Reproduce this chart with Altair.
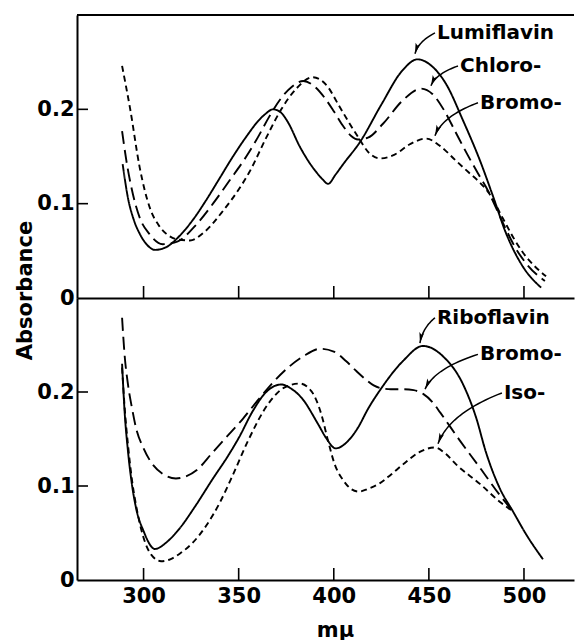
import math
import altair as alt
import pandas as pd

# ---------------- data (wavelength in mμ, absorbance) ----------------
# upper panel
lumi_x = [289, 291.8, 295, 298, 302, 306, 312, 319, 326, 333, 340, 347, 354, 360, 364, 368, 372, 376, 382, 387,
          391, 394, 397, 401, 405, 414, 425, 436, 444, 452, 459, 468, 477, 483.7, 490.5, 499.5, 509]
lumi_y = [0.142, 0.106, 0.082, 0.068, 0.056, 0.051, 0.054, 0.066, 0.083, 0.104, 0.127, 0.150, 0.171, 0.187, 0.195,
          0.200, 0.197, 0.186, 0.161, 0.144, 0.133, 0.126, 0.121, 0.131, 0.142, 0.166, 0.205, 0.241, 0.253, 0.245,
          0.227, 0.188, 0.145, 0.108, 0.069, 0.033, 0.011]

chloro_x = [288.7, 291, 294.4, 298, 303, 310, 318, 326, 336.5, 345, 354, 360, 366, 372, 378, 384, 390, 396, 400,
            405, 409, 412.7, 418, 426, 436, 446, 452, 458, 464, 470, 477, 481, 485, 490.5, 495, 501, 511]
chloro_y = [0.177, 0.145, 0.110, 0.085, 0.068, 0.057, 0.060, 0.074, 0.100, 0.124, 0.150, 0.170, 0.192, 0.211,
            0.224, 0.230, 0.224, 0.210, 0.198, 0.182, 0.172, 0.168, 0.170, 0.185, 0.209, 0.222, 0.216, 0.199,
            0.176, 0.153, 0.128, 0.114, 0.097, 0.073, 0.055, 0.037, 0.018]

bromo_top_x = [288.7, 292.9, 298, 303.4, 308, 312, 318, 324.4, 332, 342, 350, 355.5, 364.5, 372.4, 380.3, 389,
               396, 403, 408, 413, 418, 424.3, 432, 440, 448.5, 456, 464, 471, 477, 482, 489, 495, 499.5, 505,
               511.6]
bromo_top_y = [0.246, 0.201, 0.138, 0.095, 0.077, 0.068, 0.062, 0.061, 0.070, 0.093, 0.115, 0.133, 0.170, 0.200,
               0.222, 0.234, 0.226, 0.203, 0.186, 0.170, 0.155, 0.148, 0.152, 0.163, 0.169, 0.161, 0.146, 0.133,
               0.122, 0.110, 0.084, 0.062, 0.048, 0.035, 0.023]

# lower panel
ribo_x = [288.7, 290, 291.8, 294, 296, 300, 306, 312, 319, 327, 336.5, 344.4, 350, 357.5, 364, 372.4, 378, 383,
          391.7, 396, 401, 406, 412.7, 418, 425, 436.4, 446.9, 457.4, 468, 474.8, 480, 487.4, 494.2, 501, 510]
ribo_y = [0.230, 0.180, 0.137, 0.100, 0.077, 0.052, 0.033, 0.040, 0.055, 0.078, 0.108, 0.132, 0.151, 0.180,
          0.199, 0.208, 0.203, 0.194, 0.166, 0.151, 0.140, 0.145, 0.162, 0.182, 0.204, 0.233, 0.249, 0.238, 0.208,
          0.173, 0.136, 0.097, 0.073, 0.049, 0.022]

bromo_bot_x = [288.7, 290, 291.8, 294, 296, 300, 303.4, 310, 317, 322, 328, 336, 344, 352, 360, 368, 376, 384,
               393, 400, 406.4, 412, 417, 421, 425, 430, 436, 442, 447, 452, 456, 466.4, 477, 487.4, 494.2]
bromo_bot_y = [0.279, 0.240, 0.208, 0.182, 0.162, 0.140, 0.127, 0.113, 0.108, 0.110, 0.117, 0.135, 0.153, 0.171,
               0.191, 0.210, 0.226, 0.238, 0.246, 0.243, 0.233, 0.222, 0.213, 0.207, 0.204, 0.203, 0.203, 0.202,
               0.198, 0.189, 0.178, 0.148, 0.119, 0.090, 0.073]

iso_x = [288.7, 290, 292, 294, 296, 300, 304, 309.2, 314, 319, 326, 333, 340, 347, 354.9, 365.4, 374.2, 382,
         388.2, 393.5, 397, 400.5, 405, 409, 413, 418, 424.3, 430, 436.4, 445, 453, 459, 464.3, 477, 487.4, 494.2]
iso_y = [0.226, 0.185, 0.140, 0.105, 0.080, 0.045, 0.027, 0.020, 0.022, 0.028, 0.040, 0.058, 0.082, 0.112,
         0.148, 0.187, 0.205, 0.209, 0.201, 0.176, 0.148, 0.123, 0.106, 0.097, 0.094, 0.097, 0.103, 0.112, 0.123,
         0.136, 0.141, 0.134, 0.123, 0.102, 0.083, 0.073]

# annotations: label text, label anchor (left, middle) and arrow tip
top_labels = ["Lumiflavin", "Chloro-", "Bromo-"]
top_label_x = [453.2, 465.3, 475.8]
top_label_y = [0.281, 0.246, 0.207]
top_tip_x = [442.7, 451.1, 453.2]
top_tip_y = [0.259, 0.225, 0.172]

bot_labels = ["Riboflavin", "Bromo-", "Iso-"]
bot_label_x = [453.2, 475.8, 488.4]
bot_label_y = [0.279, 0.240, 0.199]
bot_tip_x = [445.3, 448.0, 454.8]
bot_tip_y = [0.252, 0.203, 0.145]

x_ticks = [300, 350, 400, 450, 500]
y_ticks = [0, 0.1, 0.2]
styles = ["solid", "long", "short"]

# ---------------- layout ----------------
X_DOMAIN = [265, 526.3]
Y_DOMAIN = [0, 0.3]
W, H1, H2 = 497, 283, 282
FONT = "DejaVu Sans"
PXX = W / (X_DOMAIN[1] - X_DOMAIN[0])
ARROW = "M0,0L0.55,2.4L0,1.9L-0.55,2.4Z"

xs = alt.Scale(domain=X_DOMAIN, nice=False, zero=False)
ys = alt.Scale(domain=Y_DOMAIN, nice=False)


def arrows(labels, lx, ly, tx, ty, H):
    pxy = H / (Y_DOMAIN[1] - Y_DOMAIN[0])
    rows, heads = [], []
    for lab, sx, sy, ex, ey in zip(labels, lx, ly, tx, ty):
        Sx, Sy = sx * PXX, -sy * pxy
        Ex, Ey = ex * PXX, -ey * pxy
        Cx = Ex + 0.18 * (Sx - Ex)
        Cy = Sy + 0.4 * (Ey - Sy)
        for i in range(25):
            t = i / 24
            bx = (1 - t) ** 2 * Sx + 2 * (1 - t) * t * Cx + t * t * Ex
            by = (1 - t) ** 2 * Sy + 2 * (1 - t) * t * Cy + t * t * Ey
            rows.append({"label": lab, "t": t, "x": bx / PXX, "y": -by / pxy})
        ang = math.degrees(math.atan2(Ex - Cx, -(Ey - Cy))) % 360
        heads.append({"x": ex, "y": ey, "ang": ang})
    return pd.DataFrame(rows), pd.DataFrame(heads)


def panel(series, labels, lx, ly, tx, ty, H, bottom):
    df = pd.concat([pd.DataFrame({"x": sx, "y": sy, "s": st}) for sx, sy, st in series])
    if bottom:
        xaxis = alt.Axis(values=x_ticks, ticks=False, grid=False, labelPadding=5, title="mμ",
                         titleX=258, titleY=56, titleAlign="center", titleBaseline="alphabetic",
                         titleFontSize=21)
        yaxis = alt.Axis(values=y_ticks, ticks=False, grid=False, labelPadding=3, title=None,
                         labelExpr="datum.value == 0 ? '0' : format(datum.value, '.1f')")
    else:
        xaxis = alt.Axis(values=x_ticks, ticks=False, grid=False, labels=False, title=None)
        yaxis = alt.Axis(values=y_ticks, ticks=False, grid=False, labelPadding=3, title="Absorbance",
                         titleX=-46, titleY=275, titleAngle=270, titleAlign="center",
                         titleBaseline="alphabetic", titleFontSize=21,
                         labelExpr="datum.value == 0 ? '0' : format(datum.value, '.1f')")
    lines = alt.Chart(df).mark_line(color="black", strokeWidth=1.9, interpolate="monotone").encode(
        x=alt.X("x:Q", scale=xs, axis=xaxis),
        y=alt.Y("y:Q", scale=ys, axis=yaxis),
        detail="s:N",
        strokeDash=alt.StrokeDash("s:N", scale=alt.Scale(domain=styles, range=[[1, 0], [13, 6], [6, 4]]),
                                  legend=None),
    )
    adf, hdf = arrows(labels, lx, ly, tx, ty, H)
    X = alt.X("x:Q", scale=xs)
    Y = alt.Y("y:Q", scale=ys)
    arr = alt.Chart(adf).mark_line(color="black", strokeWidth=1.5).encode(
        x=X, y=Y, detail="label:N", order="t:Q")
    heads = alt.Chart(hdf).mark_point(shape=ARROW, filled=True, size=80, color="black", opacity=1,
                                      strokeWidth=0).encode(
        x=X, y=Y, angle=alt.Angle("ang:Q", scale=None))
    tdf = pd.DataFrame({"x": lx, "y": ly, "label": labels})
    texts = alt.Chart(tdf).mark_text(align="left", baseline="middle", dx=2, font=FONT, fontSize=20,
                                     fontWeight="bold", color="black").encode(
        x=X, y=Y, text="label:N")
    xt = alt.Chart(pd.DataFrame({"x": x_ticks})).mark_rule(color="black", strokeWidth=1.6).encode(
        x=X, y=alt.value(H), y2=alt.value(H - 12))
    yt = alt.Chart(pd.DataFrame({"y": y_ticks[1:]})).mark_rule(color="black", strokeWidth=1.6).encode(
        y=Y, x=alt.value(0), x2=alt.value(11))
    layers = [lines, arr, heads, texts, xt, yt]
    if not bottom:
        border = alt.Chart(pd.DataFrame({"y": [Y_DOMAIN[1]]})).mark_rule(color="black", strokeWidth=2).encode(
            y=Y, x=alt.value(0), x2=alt.value(W))
        layers.append(border)
    return alt.layer(*layers).properties(width=W, height=H)


top = panel([(lumi_x, lumi_y, "solid"), (chloro_x, chloro_y, "long"), (bromo_top_x, bromo_top_y, "short")],
            top_labels, top_label_x, top_label_y, top_tip_x, top_tip_y, H1, False)
bottom = panel([(ribo_x, ribo_y, "solid"), (bromo_bot_x, bromo_bot_y, "long"), (iso_x, iso_y, "short")],
               bot_labels, bot_label_x, bot_label_y, bot_tip_x, bot_tip_y, H2, True)

chart = alt.VConcatChart(vconcat=[top, bottom], spacing=0, bounds="flush").properties(
    padding={"left": 6, "top": 6, "right": 0, "bottom": 0}
).configure_view(stroke=None).configure_axis(
    domainColor="black", domainWidth=2, labelFont=FONT, labelFontSize=21, labelFontWeight="bold",
    labelColor="black", titleFont=FONT, titleFontWeight="bold", titleColor="black"
)

chart.save("out.html", embed_options={"renderer": "svg", "actions": False})
